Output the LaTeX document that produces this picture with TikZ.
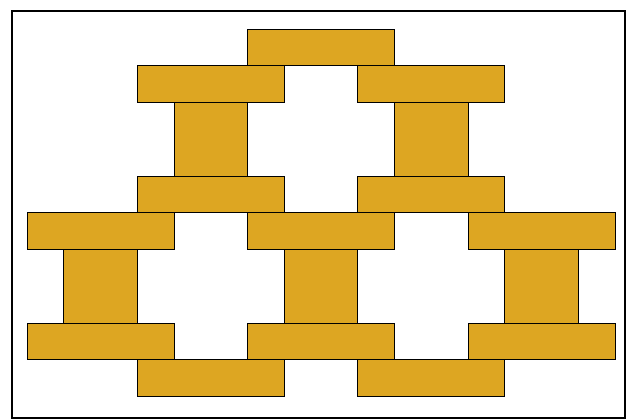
\documentclass[tikz,border=0pt]{standalone}
\usepackage{tikz}

\begin{document}
\begin{tikzpicture}[
        x=1cm, y=-1cm,
        slab/.style={
            draw=black,
            line width=0.6pt,
            fill=brick
        },
        frame/.style={
            draw=black,
            line width=1.3pt
        }
    ]
    \definecolor{brick}{RGB}{221,166,34}
    \useasboundingbox (-0.735,-0.789) rectangle (16.462,10.639);

    % Outer frame
    \draw[frame] (-0.41,-0.49) rectangle (16.27,10.59);

    % Top row
    \draw[slab] (6,0) rectangle (10,1);
    \draw[slab] (3,1) rectangle (7,2);
    \draw[slab] (9,1) rectangle (13,2);

    % Upper posts
    \draw[slab] (4,2) rectangle (6,4);
    \draw[slab] (10,2) rectangle (12,4);

    % Middle rows
    \draw[slab] (3,4) rectangle (7,5);
    \draw[slab] (9,4) rectangle (13,5);
    \draw[slab] (0,5) rectangle (4,6);
    \draw[slab] (6,5) rectangle (10,6);
    \draw[slab] (12,5) rectangle (16,6);

    % Lower posts
    \draw[slab] (1,6) rectangle (3,8);
    \draw[slab] (7,6) rectangle (9,8);
    \draw[slab] (13,6) rectangle (15,8);

    % Bottom rows
    \draw[slab] (0,8) rectangle (4,9);
    \draw[slab] (6,8) rectangle (10,9);
    \draw[slab] (12,8) rectangle (16,9);
    \draw[slab] (3,9) rectangle (7,10);
    \draw[slab] (9,9) rectangle (13,10);

\end{tikzpicture}
\end{document}
